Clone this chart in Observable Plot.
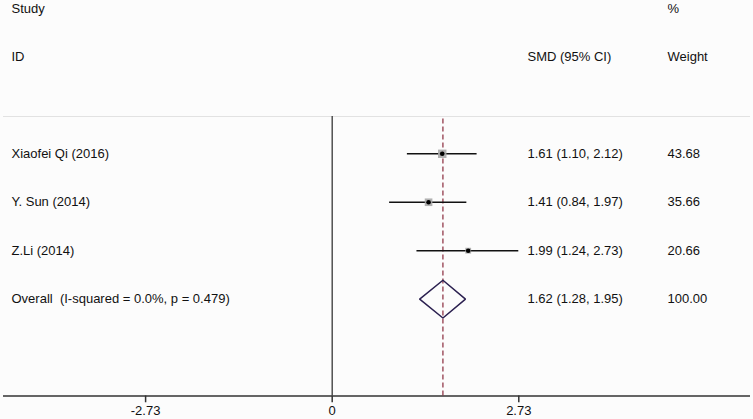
<!DOCTYPE html>
<html>
<head>
<meta charset="utf-8">
<script src="https://cdn.jsdelivr.net/npm/d3@7"></script>
<script src="https://cdn.jsdelivr.net/npm/@observablehq/plot@0.6"></script>
<style>
  html, body { margin: 0; padding: 0; background: #fcfcfc; }
  #chart svg { display: block; background: #fcfcfc; }
</style>
</head>
<body>
<div id="chart"></div>
<script>
// ---- data ----
const studies = ["Xiaofei Qi (2016)", "Y. Sun (2014)", "Z.Li (2014)"];
const smd     = [1.61, 1.41, 1.99];
const ciLow   = [1.10, 0.84, 1.24];
const ciHigh  = [2.12, 1.97, 2.73];
const weights = [43.68, 35.66, 20.66];
const smdText = ["1.61 (1.10, 2.12)", "1.41 (0.84, 1.97)", "1.99 (1.24, 2.73)"];
const weightText = ["43.68", "35.66", "20.66"];

const overallLabel = "Overall\u00a0 (I-squared = 0.0%, p = 0.479)";
const overallSmd = 1.62, overallLow = 1.28, overallHigh = 1.95;
const overallSmdText = "1.62 (1.28, 1.95)";
const overallWeightText = "100.00";

const xTicks = [-2.73, 0, 2.73];
const xTickLabels = ["-2.73", "0", "2.73"];

// ---- build tables ----
const rows = studies.map((s, i) => ({
  study: s, smd: smd[i], lo: ciLow[i], hi: ciHigh[i], w: weights[i],
  smdText: smdText[i], wText: weightText[i], row: i + 3
}));
const overallRow = rows.length + 3;
const dh = 0.39;
const diamond = [
  {x: overallLow, y: overallRow},
  {x: overallSmd, y: overallRow - dh},
  {x: overallHigh, y: overallRow},
  {x: overallSmd, y: overallRow + dh},
  {x: overallLow, y: overallRow}
];
const lineTop = 2.23, axisRow = 8, tickLen = 0.14;

const leftTexts = [
  {t: "Study", row: 0}, {t: "ID", row: 1},
  ...rows.map(d => ({t: d.study, row: d.row})),
  {t: overallLabel, row: overallRow}
];
const midTexts = [
  {t: "SMD (95% CI)", row: 1},
  ...rows.map(d => ({t: d.smdText, row: d.row})),
  {t: overallSmdText, row: overallRow}
];
const rightTexts = [
  {t: "%", row: 0}, {t: "Weight", row: 1},
  ...rows.map(d => ({t: d.wText, row: d.row})),
  {t: overallWeightText, row: overallRow}
];

const font = "Liberation Sans, Arial, Helvetica, sans-serif";
const fs = 13;

const chart = Plot.plot({
  width: 753,
  height: 419,
  marginLeft: 3,
  marginRight: 3,
  marginTop: 0,
  marginBottom: 23.5,
  style: {fontFamily: font, fontSize: fs + "px", background: "#fcfcfc", color: "#111"},
  x: {domain: [-4.809, 6.120], ticks: xTicks, tickFormat: d => xTickLabels[xTicks.indexOf(d)], tickSize: 0, tickPadding: 10, label: null},
  y: {domain: [0, 8], range: [8, 395.5], axis: null},
  r: {type: "sqrt", domain: [0, 100], range: [0, 7.2]},
  marks: [
    // faint top border
    Plot.ruleY([lineTop], {stroke: "#e2e2e2", strokeWidth: 1.2}),
    // axis line
    Plot.ruleY([axisRow], {stroke: "#333", strokeWidth: 1.3}),
    // axis ticks
    Plot.ruleX(xTicks, {y1: axisRow, y2: axisRow + tickLen, stroke: "#333", strokeWidth: 1.5}),
    // zero line
    Plot.ruleX([0], {y1: lineTop, y2: axisRow, stroke: "#444", strokeWidth: 1.4}),
    // overall dashed line
    Plot.ruleX([overallSmd], {y1: lineTop + 0.05, y2: axisRow, stroke: "#8a2a3c", strokeWidth: 1.2, strokeDasharray: "5,3"}),
    // CIs
    Plot.ruleY(rows, {x1: "lo", x2: "hi", y: "row", stroke: "#111", strokeWidth: 1.5}),
    // weight squares
    Plot.dot(rows, {x: "smd", y: "row", r: "w", symbol: "square", fill: "#a8a8a8", fillOpacity: 0.9, stroke: "none"}),
    // point estimate
    Plot.dot(rows, {x: "smd", y: "row", r: 2.3, fill: "#000", stroke: "none"}),
    // diamond
    Plot.line(diamond, {x: "x", y: "y", stroke: "#2b2050", strokeWidth: 1.5, strokeLinejoin: "miter"}),
    // text columns
    Plot.text(leftTexts, {text: "t", y: "row", frameAnchor: "left", dx: 8, textAnchor: "start", fill: "#111"}),
    Plot.text(midTexts, {text: "t", y: "row", frameAnchor: "left", dx: 524, textAnchor: "start", fill: "#111"}),
    Plot.text(rightTexts, {text: "t", y: "row", frameAnchor: "left", dx: 664, textAnchor: "start", fill: "#111"})
  ]
});
document.getElementById("chart").appendChild(chart);
</script>
</body>
</html>
